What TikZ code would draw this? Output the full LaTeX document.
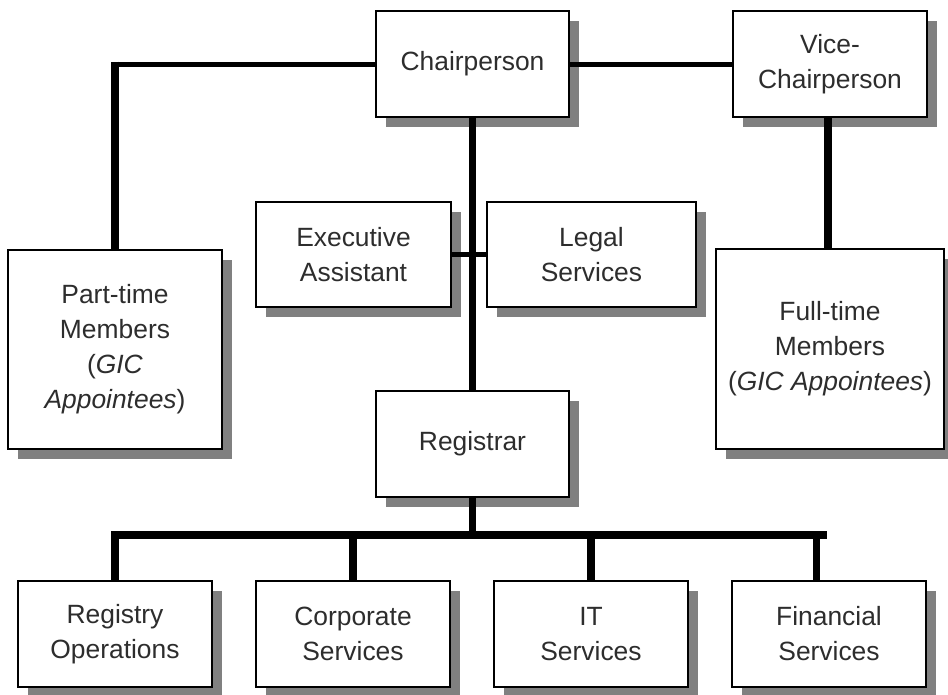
\documentclass[tikz,border=0pt]{standalone}
\usepackage{fontspec}
\setmainfont{Liberation Sans}
\usepackage{tikz}
\usetikzlibrary{shadows}
\definecolor{boxtext}{RGB}{45, 45, 45}
\definecolor{shade}{RGB}{128, 128, 128}

\begin{document}
\begin{tikzpicture}[x=1pt, y=-1pt,
    orgbox/.style={draw=black, line width=2pt, fill=white, text=boxtext,
      align=center, inner sep=0pt, font=\fontsize{26.4}{35}\selectfont,
      drop shadow={shadow xshift=10pt, shadow yshift=-10pt, fill=shade, opacity=1}},
    thinlink/.style={line width=5pt},
    thicklink/.style={line width=7.5pt}]
  \useasboundingbox (0,0) rectangle (948,694);
  % top row
  \node[orgbox, minimum width=193pt, minimum height=106pt] (chair) at (472.5,64) {Chairperson};
  \node[orgbox, minimum width=194pt, minimum height=106pt] (vice) at (830,64) {Vice-\\Chairperson};
  % members
  \node[orgbox, minimum width=214pt, minimum height=199pt] (ptm) at (115,349.5)
    {Part-time\\Members\\(\textit{GIC}\\\textit{Appointees})};
  \node[orgbox, minimum width=228pt, minimum height=200pt] (ftm) at (830,349)
    {Full-time\\Members\\(\textit{GIC Appointees})};
  % staff beside the chair line
  \node[orgbox, minimum width=195pt, minimum height=105pt] (exec) at (353.5,254.5) {Executive\\Assistant};
  \node[orgbox, minimum width=209pt, minimum height=105pt] (legal) at (591.5,254.5) {Legal\\Services};
  \node[orgbox, minimum width=193pt, minimum height=106pt] (reg) at (472.5,444) {Registrar};
  % bottom row
  \foreach \lbl [count=\n] in {{Registry\\Operations}, {Corporate\\Services},
      {IT\\Services}, {Financial\\Services}} {
    \node[orgbox, minimum width=194pt, minimum height=106pt] (unit\n)
      at (115+238*\n-238,634) {\lbl};
  }
  % links from the chair
  \draw[thinlink] (chair.west) -- (chair.west -| ptm.north);
  \draw[thicklink] ([yshift=2.5pt]chair.west -| ptm.north) -- (ptm.north);
  \draw[thinlink] (chair.east) -- (chair.east -| vice.west);
  \draw[thicklink] ([xshift=-2pt]vice.south) -- ([xshift=-2pt]vice.south |- ftm.north);
  \draw[thicklink] (chair.south) -- (reg.north);
  \draw[thinlink] (exec.east) -- (exec.east -| legal.west);
  % bus under the registrar
  \coordinate (bus) at (472.5,535);
  \draw[thicklink] (reg.south) -- (bus);
  \draw[thicklink] ([xshift=-3.75pt]bus -| unit1.north) -- ([xshift=-2.5pt]bus -| unit4.north);
  \foreach \n in {1,2,3} {
    \draw[thicklink] ([yshift=3.5pt]bus -| unit\n.north) -- (unit\n.north);
  }
  \draw[thicklink] ([xshift=-12.5pt,yshift=3.5pt]bus -| unit4.north) -- ([xshift=-12.5pt]unit4.north);
\end{tikzpicture}
\end{document}
